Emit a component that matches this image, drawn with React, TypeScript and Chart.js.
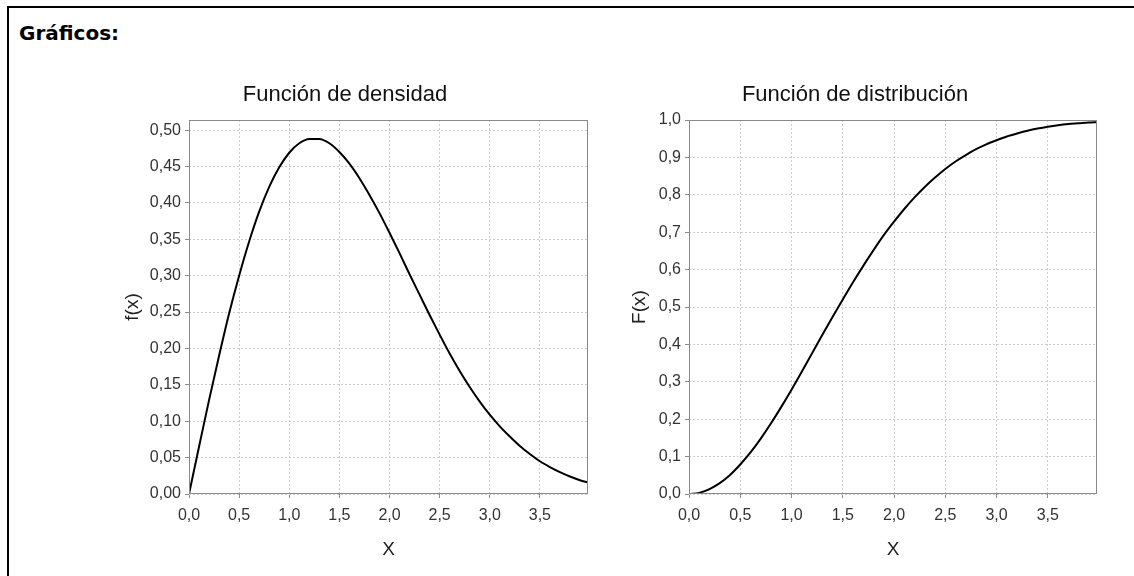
import React, { useEffect, useRef } from "react";
import { Chart, registerables } from "chart.js";

Chart.register(...registerables);

const pageTitle = "Gráficos:";
const densityTitle = "Función de densidad";
const distributionTitle = "Función de distribución";
const densityAxisLabel = "f(x)";
const distributionAxisLabel = "F(x)";
const xAxisLabel = "X";

const xValues = [
  0.0, 0.1, 0.2, 0.3, 0.4, 0.5, 0.6, 0.7, 0.8, 0.9,
  1.0, 1.1, 1.2, 1.3, 1.4, 1.5, 1.6, 1.7, 1.8, 1.9,
  2.0, 2.1, 2.2, 2.3, 2.4, 2.5, 2.6, 2.7, 2.8, 2.9,
  3.0, 3.1, 3.2, 3.3, 3.4, 3.5, 3.6, 3.7, 3.8, 3.9, 3.98,
];

const densityValues = [
  0, 0.065, 0.129, 0.19, 0.248, 0.3, 0.347, 0.388, 0.422, 0.449,
  0.469, 0.482, 0.488, 0.488, 0.482, 0.47, 0.454, 0.434, 0.411, 0.386,
  0.359, 0.331, 0.302, 0.274, 0.246, 0.219, 0.193, 0.169, 0.147, 0.127,
  0.109, 0.093, 0.079, 0.066, 0.055, 0.045, 0.037, 0.03, 0.024, 0.019, 0.016,
];

const distributionValues = [
  0, 0.003, 0.013, 0.029, 0.051, 0.079, 0.111, 0.148, 0.189, 0.233,
  0.279, 0.327, 0.376, 0.425, 0.473, 0.52, 0.566, 0.61, 0.652, 0.692,
  0.728, 0.762, 0.793, 0.821, 0.846, 0.869, 0.889, 0.906, 0.922, 0.935,
  0.946, 0.956, 0.964, 0.971, 0.977, 0.982, 0.986, 0.989, 0.991, 0.993, 0.994,
];

const xMin = 0;
const xMax = 3.98;
const xStep = 0.5;
const densityYMax = 0.514;
const densityYStep = 0.05;
const distributionYMax = 1.0;
const distributionYStep = 0.1;

const FONT = "'Liberation Sans', Arial, sans-serif";

const framePlugin = {
  id: "frame",
  afterDraw(chart: any) {
    const { ctx, chartArea } = chart;
    ctx.save();
    ctx.strokeStyle = "#8a8a8a";
    ctx.lineWidth = 1;
    ctx.strokeRect(
      Math.round(chartArea.left) + 0.5,
      Math.round(chartArea.top) + 0.5,
      Math.round(chartArea.right - chartArea.left) - 1,
      Math.round(chartArea.bottom - chartArea.top) - 1
    );
    ctx.restore();
  },
};

type PanelProps = {
  left: number;
  top: number;
  width: number;
  height: number;
  title: string;
  yLabel: string;
  values: number[];
  yMax: number;
  yStep: number;
  yDecimals: number;
  yAxisWidth: number;
  yTitlePad: number;
  rightPad: number;
};

function Panel(p: PanelProps) {
  const ref = useRef<HTMLCanvasElement | null>(null);
  useEffect(() => {
    if (!ref.current) return;
    const data = xValues.map((x, i) => ({ x, y: p.values[i] }));
    const gridCommon = {
      color: "#cccccc",
      lineWidth: 1,
      drawTicks: true,
      tickLength: 4,
      tickColor: "#8a8a8a",
      tickBorderDash: [],
    };
    const chart = new Chart(ref.current, {
      type: "line",
      data: {
        datasets: [
          {
            data,
            borderColor: "#000000",
            borderWidth: 2,
            pointRadius: 0,
            fill: false,
            cubicInterpolationMode: "monotone",
          },
        ],
      },
      options: {
        animation: false,
        responsive: false,
        devicePixelRatio: 1,
        layout: { padding: { left: 0, right: p.rightPad, top: 0, bottom: 0 } },
        plugins: {
          legend: { display: false },
          tooltip: { enabled: false },
          title: {
            display: true,
            text: p.title,
            color: "#111111",
            font: { family: FONT, size: 22, weight: "normal", lineHeight: 1.2 },
            padding: { top: 12, bottom: 11.6 },
          },
        },
        scales: {
          x: {
            type: "linear",
            min: xMin,
            max: xMax,
            grid: gridCommon,
            border: { display: false, dash: [2, 2] },
            ticks: {
              stepSize: xStep,
              includeBounds: false,
              color: "#333333",
              padding: 8,
              maxRotation: 0,
              font: { family: FONT, size: 16 },
              callback: (v: any) => Number(v).toFixed(1).replace(".", ","),
            },
            title: {
              display: true,
              text: xAxisLabel,
              color: "#222222",
              font: { family: FONT, size: 19, lineHeight: 1.2 },
              padding: { top: 0, bottom: 8.6 },
            },
            afterFit: (scale: any) => {
              scale.height = 76;
            },
          },
          y: {
            type: "linear",
            min: 0,
            max: p.yMax,
            grid: gridCommon,
            border: { display: false, dash: [2, 2] },
            ticks: {
              stepSize: p.yStep,
              includeBounds: false,
              color: "#333333",
              padding: 4,
              font: { family: FONT, size: 16 },
              callback: (v: any) => Number(v).toFixed(p.yDecimals).replace(".", ","),
            },
            title: {
              display: true,
              text: p.yLabel,
              color: "#222222",
              font: { family: FONT, size: 19, lineHeight: 1.2 },
              padding: { top: p.yTitlePad, bottom: 0 },
            },
            afterFit: (scale: any) => {
              scale.width = p.yAxisWidth;
            },
          },
        },
      } as any,
      plugins: [framePlugin],
    });
    return () => chart.destroy();
  }, []);
  return (
    <canvas
      ref={ref}
      width={p.width}
      height={p.height}
      style={{ position: "absolute", left: p.left, top: p.top, width: p.width, height: p.height }}
    />
  );
}

export default function App() {
  return (
    <div
      style={{
        position: "fixed",
        left: 0,
        top: 0,
        width: 1134,
        height: 576,
        background: "#ffffff",
        overflow: "hidden",
      }}
    >
      <div
        style={{
          position: "absolute",
          left: 7,
          top: 6,
          width: 1200,
          height: 600,
          borderTop: "2px solid #000",
          borderLeft: "2px solid #000",
        }}
      />
      <div
        style={{
          position: "absolute",
          left: 19,
          top: 23,
          fontFamily: "'DejaVu Sans', Verdana, sans-serif",
          fontWeight: "bold",
          fontSize: 20,
          lineHeight: "20px",
          color: "#000",
          whiteSpace: "nowrap",
        }}
      >
        {pageTitle}
      </div>
      <Panel
        left={102}
        top={70}
        width={498}
        height={500}
        title={densityTitle}
        yLabel={densityAxisLabel}
        values={densityValues}
        yMax={densityYMax}
        yStep={densityYStep}
        yDecimals={2}
        yAxisWidth={87}
        yTitlePad={19.6}
        rightPad={12}
      />
      <Panel
        left={613}
        top={70}
        width={497}
        height={500}
        title={distributionTitle}
        yLabel={distributionAxisLabel}
        values={distributionValues}
        yMax={distributionYMax}
        yStep={distributionYStep}
        yDecimals={1}
        yAxisWidth={76}
        yTitlePad={15.6}
        rightPad={13}
      />
    </div>
  );
}
